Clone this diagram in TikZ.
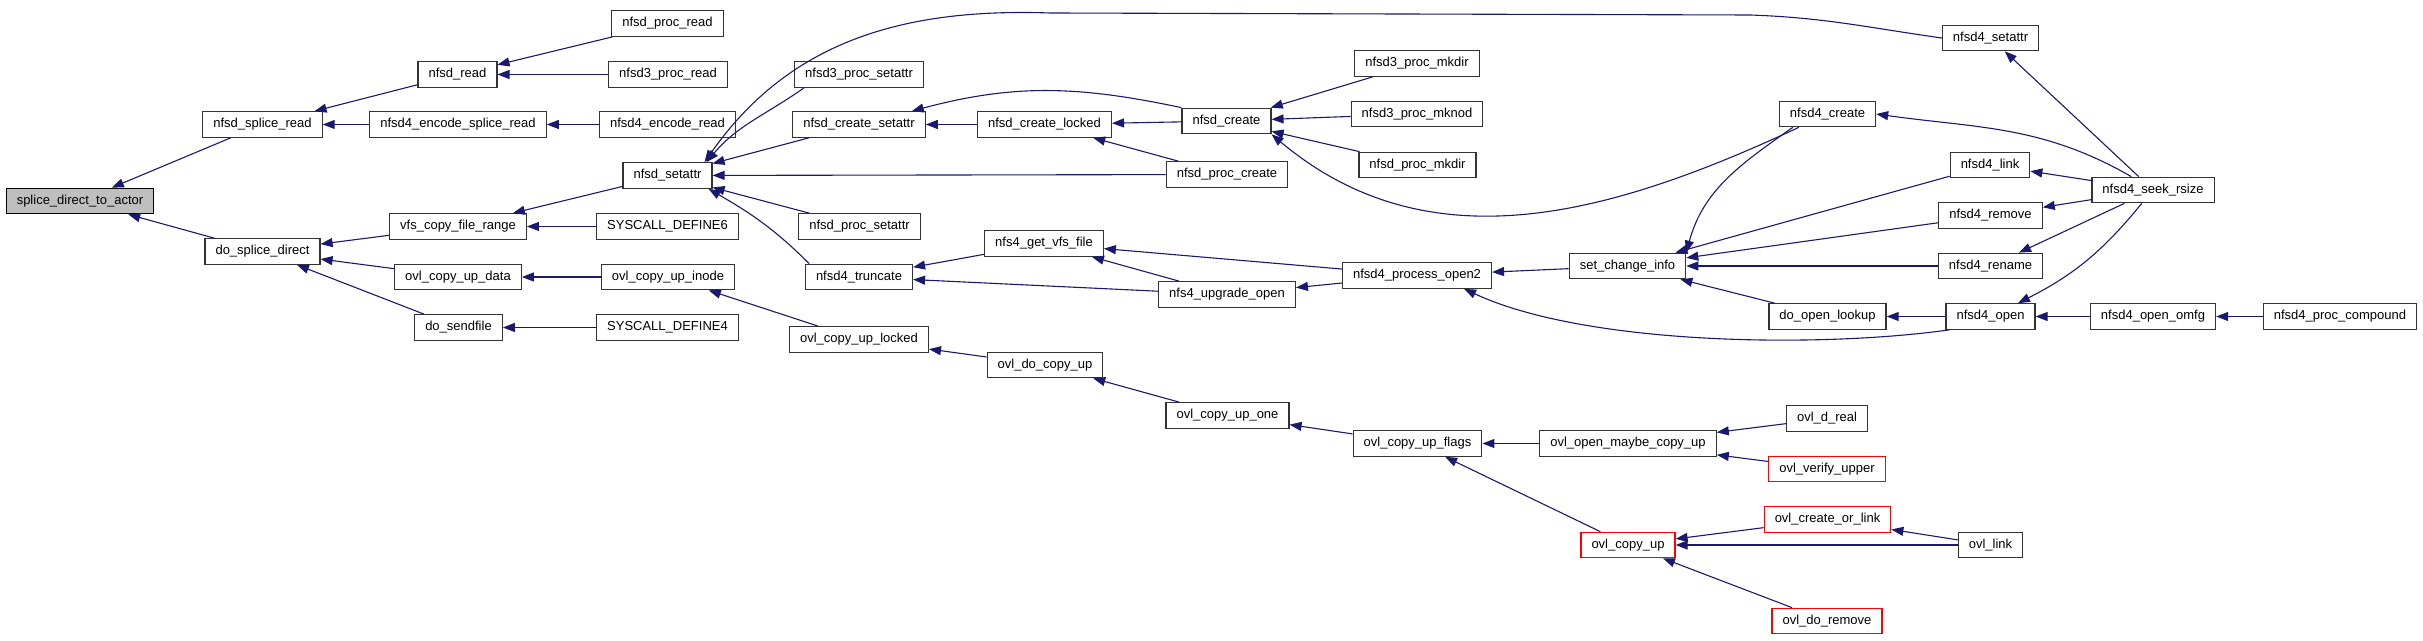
\documentclass[tikz,border=0pt]{standalone}
\usepackage{fontspec}
\setmainfont{Liberation Sans}
\usetikzlibrary{arrows.meta}
\definecolor{edgeblue}{HTML}{191970}
\definecolor{rootgray}{HTML}{BFBFBF}

\begin{document}
\begin{tikzpicture}[
  x=1pt, y=1pt,
  fn/.style={rectangle, draw=black!80, fill=white, line width=1.2pt, minimum height=25.5pt, inner xsep=10.5pt, inner ysep=0pt, text height=9.5pt, text depth=3pt},
  rootfn/.style={fn, fill=rootgray, draw=black},
  redfn/.style={fn, draw=red},
  arr/.style={-{Triangle[length=12pt,width=9pt]}, draw=edgeblue, line width=1.1pt},
  font=\fontsize{13}{15}\selectfont
]
\useasboundingbox (0,0) rectangle (2423,640);
\node[rootfn] (root) at (80,439) {splice\_direct\_to\_actor};
\node[fn] (nsr) at (262.5,515.5) {nfsd\_splice\_read};
\node[fn] (dsd) at (262.5,388.5) {do\_splice\_direct};
\node[fn] (nread) at (457.5,565.5) {nfsd\_read};
\node[fn] (nesr) at (458,515.5) {nfsd4\_encode\_splice\_read};
\node[fn] (vcfr) at (458,413.5) {vfs\_copy\_file\_range};
\node[fn] (ocud) at (458,363) {ovl\_copy\_up\_data};
\node[fn] (dsf) at (458.5,312.5) {do\_sendfile};
\node[fn] (npr) at (667.5,616.5) {nfsd\_proc\_read};
\node[fn] (n3pr) at (668,565.5) {nfsd3\_proc\_read};
\node[fn] (ner) at (667.5,515.5) {nfsd4\_encode\_read};
\node[fn] (nsa) at (667.5,464.5) {nfsd\_setattr};
\node[fn] (sd6) at (667.5,413.5) {SYSCALL\_DEFINE6};
\node[fn] (ocui) at (668,363) {ovl\_copy\_up\_inode};
\node[fn] (sd4) at (667.5,312.5) {SYSCALL\_DEFINE4};
\node[fn] (n3psa) at (859,565.5) {nfsd3\_proc\_setattr};
\node[fn] (ncsa) at (859,515.5) {nfsd\_create\_setattr};
\node[fn] (npsa) at (859.5,413.5) {nfsd\_proc\_setattr};
\node[fn] (n4tr) at (859,363) {nfsd4\_truncate};
\node[fn] (ocul) at (859,300.5) {ovl\_copy\_up\_locked};
\node[fn] (ncl) at (1044.5,515.5) {nfsd\_create\_locked};
\node[fn] (ngvf) at (1044,396.5) {nfs4\_get\_vfs\_file};
\node[fn] (odcu) at (1045,275) {ovl\_do\_copy\_up};
\node[fn] (ncr) at (1226.5,519) {nfsd\_create};
\node[fn] (npc) at (1227,465.5) {nfsd\_proc\_create};
\node[fn] (nuo) at (1227,345.5) {nfs4\_upgrade\_open};
\node[fn] (ocuo) at (1227.5,224.5) {ovl\_copy\_up\_one};
\node[fn] (n3mkdir) at (1417,576.5) {nfsd3\_proc\_mkdir};
\node[fn] (n3mknod) at (1417,526) {nfsd3\_proc\_mknod};
\node[fn] (npmkdir) at (1417.5,475) {nfsd\_proc\_mkdir};
\node[fn] (npo2) at (1417,364.5) {nfsd4\_process\_open2};
\node[fn] (ocuf) at (1417.5,196.5) {ovl\_copy\_up\_flags};
\node[fn] (sci) at (1627.5,374) {set\_change\_info};
\node[fn] (oomcu) at (1628,196.5) {ovl\_open\_maybe\_copy\_up};
\node[redfn] (ocu) at (1628,95) {ovl\_copy\_up};
\node[fn] (n4cr) at (1827.5,526) {nfsd4\_create};
\node[fn] (dol) at (1827.5,323.5) {do\_open\_lookup};
\node[fn] (odr) at (1827,221.5) {ovl\_d\_real};
\node[redfn] (ovu) at (1827,171) {ovl\_verify\_upper};
\node[redfn] (ocol) at (1827.5,120.5) {ovl\_create\_or\_link};
\node[redfn] (odrm) at (1827,19) {ovl\_do\_remove};
\node[fn] (n4sa) at (1990.5,602) {nfsd4\_setattr};
\node[fn] (n4link) at (1990,475) {nfsd4\_link};
\node[fn] (n4rm) at (1990.5,424.5) {nfsd4\_remove};
\node[fn] (n4rn) at (1990.5,374) {nfsd4\_rename};
\node[fn] (n4open) at (1990.5,323.5) {nfsd4\_open};
\node[fn] (olink) at (1990.5,95) {ovl\_link};
\node[fn] (n4sr) at (2153,450) {nfsd4\_seek\_rsize};
\node[fn] (n4oo) at (2153,323.5) {nfsd4\_open\_omfg};
\node[fn] (n4pc) at (2340,323.5) {nfsd4\_proc\_compound};
\draw[arr] (nsr) -- (root);
\draw[arr] (dsd) -- (root);
\draw[arr] (nread) -- (nsr);
\draw[arr] (nesr) -- (nsr);
\draw[arr] (npr) -- (nread);
\draw[arr] (n3pr) -- (nread);
\draw[arr] (ner) -- (nesr);
\draw[arr] (vcfr) -- (dsd);
\draw[arr] (ocud) -- (dsd);
\draw[arr] (dsf) -- (dsd);
\draw[arr] (nsa) -- (vcfr);
\draw[arr] (sd6) -- (vcfr);
\draw[arr] (ocui) -- (ocud);
\draw[arr] (sd4) -- (dsf);
\draw[arr] (n4sa.west) to[out=172,in=-2] (1750,625) -- (1050,627) to[out=178,in=55] ([xshift=-8pt]nsa.north east);
\draw[arr] ([xshift=10pt]n3psa.south west) to[out=215,in=50] ([xshift=-6pt]nsa.north east);
\draw[arr] (ncsa) -- (nsa);
\draw[arr] (npc) -- (nsa);
\draw[arr] (npsa) -- (nsa);
\draw[arr] (n4tr.165) to[out=135,in=-30] ([xshift=-4pt]nsa.south east);
\draw[arr] (ocul) -- (ocui);
\draw[arr] (ncl) -- (ncsa);
\draw[arr] (ncr.north west) to[out=168,in=15] ([xshift=-14pt]ncsa.north east);
\draw[arr] (ncr) -- (ncl);
\draw[arr] (npc) -- (ncl);
\draw[arr] (n3mkdir) -- (ncr);
\draw[arr] (n3mknod) -- (ncr);
\draw[arr] (npmkdir) -- (ncr);
\draw[arr] ([xshift=20pt]n4cr.south west) to[out=205,in=-40] (ncr.south east);
\draw[arr] (ngvf) -- (n4tr);
\draw[arr] (nuo) -- (n4tr);
\draw[arr] (npo2) -- (ngvf);
\draw[arr] (nuo) -- (ngvf);
\draw[arr] (npo2) -- (nuo);
\draw[arr] (sci) -- (npo2);
\draw[arr] ([xshift=4pt]n4open.south west) to[out=188,in=-25,looseness=0.7] ([xshift=-28pt]npo2.south east);
\draw[arr] ([xshift=14pt]n4cr.south west) to[out=215,in=75] (sci.north east);
\draw[arr] (n4link) -- (sci);
\draw[arr] (n4rm) -- (sci);
\draw[arr] (n4rn) -- (sci);
\draw[arr] (dol) -- (sci);
\draw[arr] (n4open) -- (dol);
\draw[arr] (n4sr) -- (n4sa);
\draw[arr] ([xshift=40pt]n4sr.north west) to[out=150,in=-8] (n4cr.east);
\draw[arr] (n4sr) -- (n4link);
\draw[arr] (n4sr) -- (n4rm);
\draw[arr] (n4sr) -- (n4rn);
\draw[arr] (n4sr) to[bend left=12] (n4open);
\draw[arr] (n4oo) -- (n4open);
\draw[arr] (n4pc) -- (n4oo);
\draw[arr] (odcu) -- (ocul);
\draw[arr] (ocuo) -- (odcu);
\draw[arr] (ocuf) -- (ocuo);
\draw[arr] (oomcu) -- (ocuf);
\draw[arr] (ocu) -- (ocuf);
\draw[arr] (odr) -- (oomcu);
\draw[arr] (ovu) -- (oomcu);
\draw[arr] (ocol) -- (ocu);
\draw[arr] (olink) -- (ocu);
\draw[arr] (odrm) -- (ocu);
\draw[arr] (olink) -- (ocol);
\end{tikzpicture}
\end{document}
